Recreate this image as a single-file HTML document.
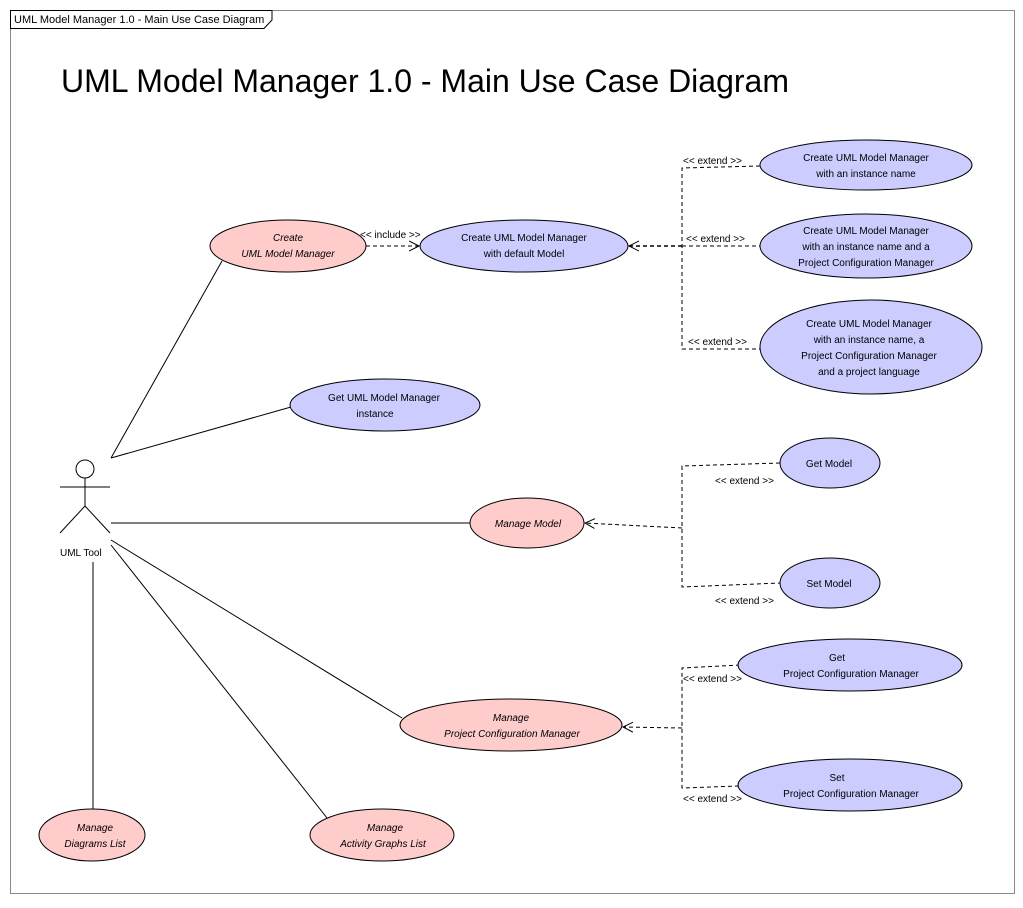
<!DOCTYPE html>
<html><head><meta charset="utf-8"><style>
html,body{margin:0;padding:0;background:#fff;}
svg text{font-family:"Liberation Sans",sans-serif;font-size:10px;fill:#000;}
</style></head><body>
<svg width="1023" height="903" viewBox="0 0 1023 903" xmlns="http://www.w3.org/2000/svg">
<defs>
<marker id="oa" markerWidth="12" markerHeight="12" refX="10" refY="6" orient="auto" markerUnits="userSpaceOnUse">
<path d="M0,1 L10,6 L0,11" fill="none" stroke="#000" stroke-width="1"/>
</marker>
</defs>
<rect x="10.5" y="10.5" width="1004" height="883" fill="#fff" stroke="#888"/>
<path d="M10.5,10.5 H272 V20 L264,28.5 H10.5 Z" fill="#fff" stroke="#000"/>
<text x="14" y="23" style="font-size:11px">UML Model Manager 1.0 - Main Use Case Diagram</text>
<text x="61" y="92" style="font-size:32px">UML Model Manager 1.0 - Main Use Case Diagram</text>

<g stroke="#000" fill="none">
<circle cx="85" cy="469" r="9" fill="#fff"/>
<line x1="85" y1="478" x2="85" y2="506"/>
<line x1="60" y1="487" x2="110" y2="487"/>
<line x1="85" y1="506" x2="60" y2="533"/>
<line x1="85" y1="506" x2="110" y2="533"/>
<line x1="111" y1="458" x2="222" y2="261"/>
<line x1="111" y1="458" x2="291" y2="407"/>
<line x1="111" y1="523" x2="470" y2="523"/>
<line x1="111" y1="540" x2="402" y2="718"/>
<line x1="111" y1="545" x2="331" y2="823"/>
<line x1="93" y1="562" x2="93" y2="809"/>
</g>
<text x="60" y="556">UML Tool</text>

<g stroke="#000" fill="none" stroke-dasharray="4,3">
<line x1="366" y1="246" x2="419" y2="246" marker-end="url(#oa)"/>
<polyline points="760,166 682,168 682,349 760,349"/>
<line x1="682" y1="246" x2="760" y2="246"/>
<line x1="682" y1="246" x2="629" y2="246" marker-end="url(#oa)" stroke-width="1.5"/>
<polyline points="780,463 682,466 682,587 780,583"/>
<line x1="682" y1="528" x2="585" y2="523" marker-end="url(#oa)"/>
<polyline points="740,665 682,668 682,788 740,786"/>
<line x1="682" y1="728" x2="623" y2="727" marker-end="url(#oa)"/>
</g>
<text x="360" y="238">&lt;&lt; include &gt;&gt;</text>
<text x="683" y="164">&lt;&lt; extend &gt;&gt;</text>
<text x="686" y="242">&lt;&lt; extend &gt;&gt;</text>
<text x="688" y="345">&lt;&lt; extend &gt;&gt;</text>
<text x="715" y="484">&lt;&lt; extend &gt;&gt;</text>
<text x="715" y="604">&lt;&lt; extend &gt;&gt;</text>
<text x="683" y="682">&lt;&lt; extend &gt;&gt;</text>
<text x="683" y="802">&lt;&lt; extend &gt;&gt;</text>

<g stroke="#000">
<ellipse cx="288" cy="246" rx="78" ry="26" fill="#ffcccc"/>
<ellipse cx="524" cy="246" rx="104" ry="26" fill="#ccccff"/>
<ellipse cx="866" cy="165" rx="106" ry="25" fill="#ccccff"/>
<ellipse cx="866" cy="246" rx="106" ry="32" fill="#ccccff"/>
<ellipse cx="871" cy="347" rx="111" ry="47" fill="#ccccff"/>
<ellipse cx="385" cy="405" rx="95" ry="26" fill="#ccccff"/>
<ellipse cx="527" cy="523" rx="57" ry="25" fill="#ffcccc"/>
<ellipse cx="830" cy="463" rx="50" ry="25" fill="#ccccff"/>
<ellipse cx="830" cy="583" rx="50" ry="25" fill="#ccccff"/>
<ellipse cx="511" cy="725" rx="111" ry="26" fill="#ffcccc"/>
<ellipse cx="850" cy="665" rx="112" ry="26" fill="#ccccff"/>
<ellipse cx="850" cy="785" rx="112" ry="26" fill="#ccccff"/>
<ellipse cx="92" cy="835" rx="53" ry="26" fill="#ffcccc"/>
<ellipse cx="382" cy="835" rx="72" ry="26" fill="#ffcccc"/>
</g>
<g text-anchor="middle">
<text x="288" y="241" font-style="italic">Create</text>
<text x="288" y="257" font-style="italic">UML Model Manager</text>
<text x="524" y="241">Create UML Model Manager</text>
<text x="524" y="257">with default Model</text>
<text x="866" y="161">Create UML Model Manager</text>
<text x="866" y="177">with an instance name</text>
<text x="866" y="234">Create UML Model Manager</text>
<text x="866" y="250">with an instance name and a</text>
<text x="866" y="266">Project Configuration Manager</text>
<text x="869" y="327">Create UML Model Manager</text>
<text x="869" y="343">with an instance name, a</text>
<text x="869" y="359">Project Configuration Manager</text>
<text x="869" y="375">and a project language</text>
<text x="384" y="401">Get UML Model Manager</text>
<text x="375" y="417">instance</text>
<text x="528" y="527" font-style="italic">Manage Model</text>
<text x="829" y="467">Get Model</text>
<text x="829" y="587">Set Model</text>
<text x="511" y="721" font-style="italic">Manage</text>
<text x="512" y="737" font-style="italic">Project Configuration Manager</text>
<text x="837" y="661">Get</text>
<text x="851" y="677">Project Configuration Manager</text>
<text x="837" y="781">Set</text>
<text x="851" y="797">Project Configuration Manager</text>
<text x="95" y="831" font-style="italic">Manage</text>
<text x="95" y="847" font-style="italic">Diagrams List</text>
<text x="385" y="831" font-style="italic">Manage</text>
<text x="383" y="847" font-style="italic">Activity Graphs List</text>
</g>
</svg>
</body></html>
